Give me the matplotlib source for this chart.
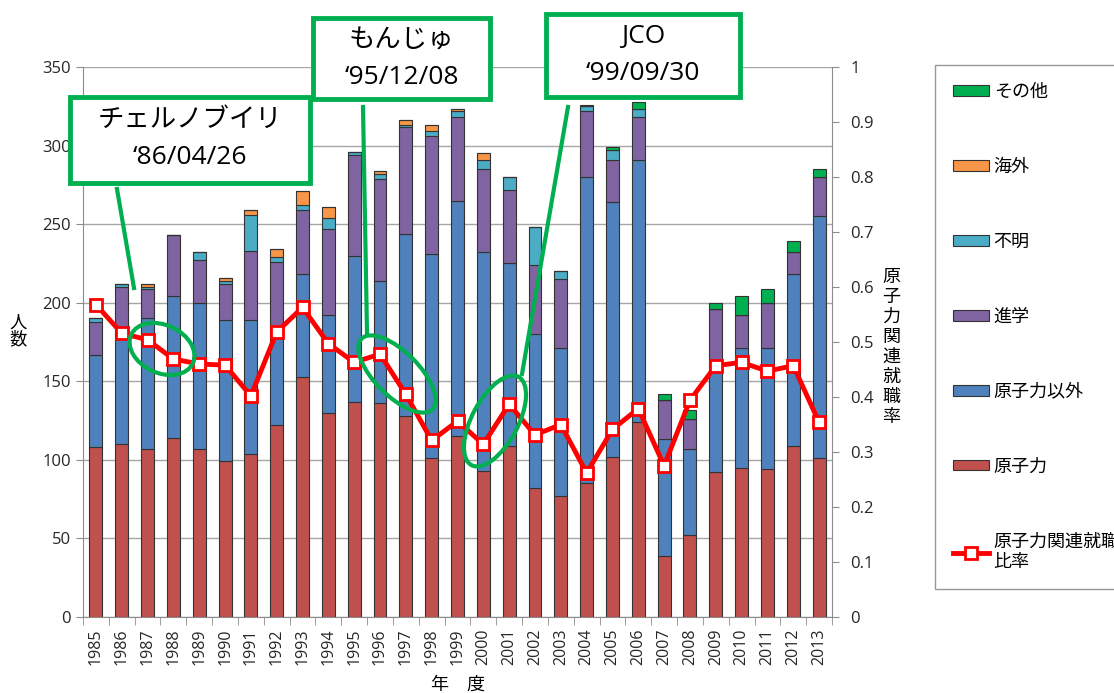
import numpy as np
import matplotlib
matplotlib.use('Agg')
import matplotlib.pyplot as plt
from matplotlib.patches import Rectangle, Ellipse, Patch
from matplotlib.lines import Line2D
from matplotlib.transforms import IdentityTransform

plt.rcParams['font.family'] = ['Open Sans', 'Noto Sans CJK JP', 'DejaVu Sans']

years = list(range(1985, 2014))
# stacked from bottom: 原子力, 原子力以外, 進学, 不明, 海外, その他
genshiryoku = [108, 110, 107, 114, 107, 99, 104, 122, 153, 130,
               137, 136, 128, 101, 115, 93, 109, 82, 77, 85,
               102, 124, 39, 52, 92, 95, 94, 109, 101]
igai = [59, 71, 83, 90, 93, 90, 85, 61, 65, 62,
        93, 78, 116, 130, 150, 139, 116, 98, 94, 195,
        162, 167, 74, 55, 64, 76, 77, 109, 154]
shingaku = [21, 29, 19, 39, 27, 23, 44, 43, 41, 55,
            64, 65, 68, 75, 53, 53, 47, 44, 44, 42,
            27, 27, 25, 19, 40, 21, 29, 14, 25]
fumei = [2, 2, 1, 0, 5, 2, 23, 3, 3, 7,
         2, 3, 1, 3, 4, 6, 8, 24, 5, 3,
         6, 5, 0, 0, 0, 0, 0, 0, 0]
kaigai = [0, 0, 2, 0, 0, 2, 3, 5, 9, 7,
          0, 2, 3, 4, 1, 4, 0, 0, 0, 0,
          0, 0, 0, 0, 0, 0, 0, 0, 0]
sonota = [0, 0, 0, 0, 0, 0, 0, 0, 0, 0,
          0, 0, 0, 0, 0, 0, 0, 0, 0, 1,
          2, 5, 4, 6, 4, 12, 9, 7, 5]
ratio = [0.568, 0.516, 0.504, 0.469, 0.460, 0.458, 0.402, 0.518, 0.563, 0.497,
         0.463, 0.478, 0.405, 0.321, 0.356, 0.314, 0.387, 0.331, 0.350, 0.262,
         0.341, 0.379, 0.275, 0.394, 0.457, 0.463, 0.447, 0.457, 0.354]

series = [genshiryoku, igai, shingaku, fumei, kaigai, sonota]
names = ['原子力', '原子力以外', '進学', '不明', '海外', 'その他']
colors = ['#C0504D', '#4F81BD', '#8064A2', '#4BACC6', '#F79646', '#00B050']
line_label = '原子力関連就職\n比率'

W, H = 1114, 693
fig = plt.figure(figsize=(W / 100, H / 100), dpi=100)
ax = fig.add_axes([83 / W, 1 - 617 / H, (832 - 83) / W, (617 - 67) / H])

x = np.arange(len(years))
bottom = np.zeros(len(years))
for vals, c in zip(series, colors):
    ax.bar(x, vals, 0.5, bottom=bottom, color=c, edgecolor='#333333', linewidth=0.8, zorder=2)
    bottom += np.array(vals)

grey = '#8c8c8c'
ax.set_xlim(-0.5, len(years) - 0.5)
ax.set_ylim(0, 350)
ax.set_yticks(range(0, 351, 50))
ax.yaxis.grid(True, color='#a6a6a6', lw=1)
ax.set_axisbelow(True)
ax.set_xticks(x)
ax.set_xticklabels([str(y) for y in years], rotation=90, fontsize=11.5, color='#262626')
ax.set_xticks(np.arange(-0.5, len(years), 1), minor=True)
ax.tick_params(axis='x', which='major', length=0, pad=8)
ax.tick_params(axis='x', which='minor', length=6, color=grey)
ax.tick_params(axis='y', length=5, color=grey, labelsize=12, labelcolor='#262626')
for s in ['top', 'right']:
    ax.spines[s].set_visible(False)
for s in ['left', 'bottom']:
    ax.spines[s].set_color(grey)

ax2 = ax.twinx()
ax2.plot(x, ratio, color='#FF0000', lw=3.5, marker='s', ms=9, mfc='white', mec='#FF0000', mew=2,
         zorder=3)
ax2.set_ylim(0, 1)
rticks = np.round(np.arange(0, 1.01, 0.1), 1)
ax2.set_yticks(rticks)
ax2.set_yticklabels(['0', '0.1', '0.2', '0.3', '0.4', '0.5', '0.6', '0.7', '0.8', '0.9', '1'])
ax2.tick_params(axis='y', length=5, color=grey, labelsize=12, labelcolor='#262626', pad=8)
for s in ['top', 'left', 'bottom']:
    ax2.spines[s].set_visible(False)
ax2.spines['right'].set_color(grey)

fig.text(18 / W, 1 - 332 / H, '人\n数', ha='center', va='center', fontsize=12.5, linespacing=1.0)
fig.text(891 / W, 1 - 347 / H, '\n'.join('原子力関連就職率'), ha='center', va='center',
         fontsize=13, linespacing=1.15)
fig.text(458 / W, 1 - 685 / H, '年　度', ha='center', va='center', fontsize=13)

# legend
handles = [Patch(fc=c, ec='#333333', lw=0.8) for c in colors[::-1]]
handles.append(Line2D([], [], color='#FF0000', lw=3.5, marker='s', ms=9, mfc='white',
                      mec='#FF0000', mew=2))
labels = names[::-1] + [line_label]
fig.legend(handles, labels, loc='upper left', bbox_to_anchor=(935 / W, 1 - 65 / H),
           frameon=True, fancybox=False, edgecolor='#7f7f7f', fontsize=13,
           handlelength=2.0, handleheight=0.55, handletextpad=0.25, labelspacing=3.15,
           borderpad=1.0, borderaxespad=0)

# event call-outs
green = '#00B050'


def box(x0, y0, x1, y1, line1, line2, ty1, ty2):
    fig.patches.append(Rectangle((x0 / W, 1 - y1 / H), (x1 - x0) / W, (y1 - y0) / H,
                                 transform=fig.transFigure, fc='white', ec=green, lw=3.5))
    cx = (x0 + x1) / 2 / W
    fig.text(cx, 1 - ty1 / H, line1, ha='center', va='center', fontsize=19)
    fig.text(cx, 1 - ty2 / H, line2, ha='center', va='center', fontsize=19)


def pointer(xa, ya, xb, yb):
    fig.lines.append(Line2D([xa / W, xb / W], [1 - ya / H, 1 - yb / H], color=green, lw=3,
                            transform=fig.transFigure))


def ring(cx, cy, w, h, ang):
    fig.patches.append(Ellipse((cx, H - cy), w, h, angle=ang, fill=False, ec=green, lw=3,
                               transform=IdentityTransform()))


box(70, 97, 310, 183, 'チェルノブイリ', '‘86/04/26', 120, 157)
box(313, 18, 490, 99, 'もんじゅ', '‘95/12/08', 41, 78)
box(546, 14, 740, 97, 'JCO', '‘99/09/30', 37, 74)
pointer(117, 189, 134, 288)
pointer(363, 107, 367, 333)
pointer(568, 107, 522, 374)
ring(162, 349, 68, 48, -25)
ring(397, 374, 100, 44, -45)
ring(495, 421, 100, 46, 62)

fig.savefig('out.png', dpi=100)
